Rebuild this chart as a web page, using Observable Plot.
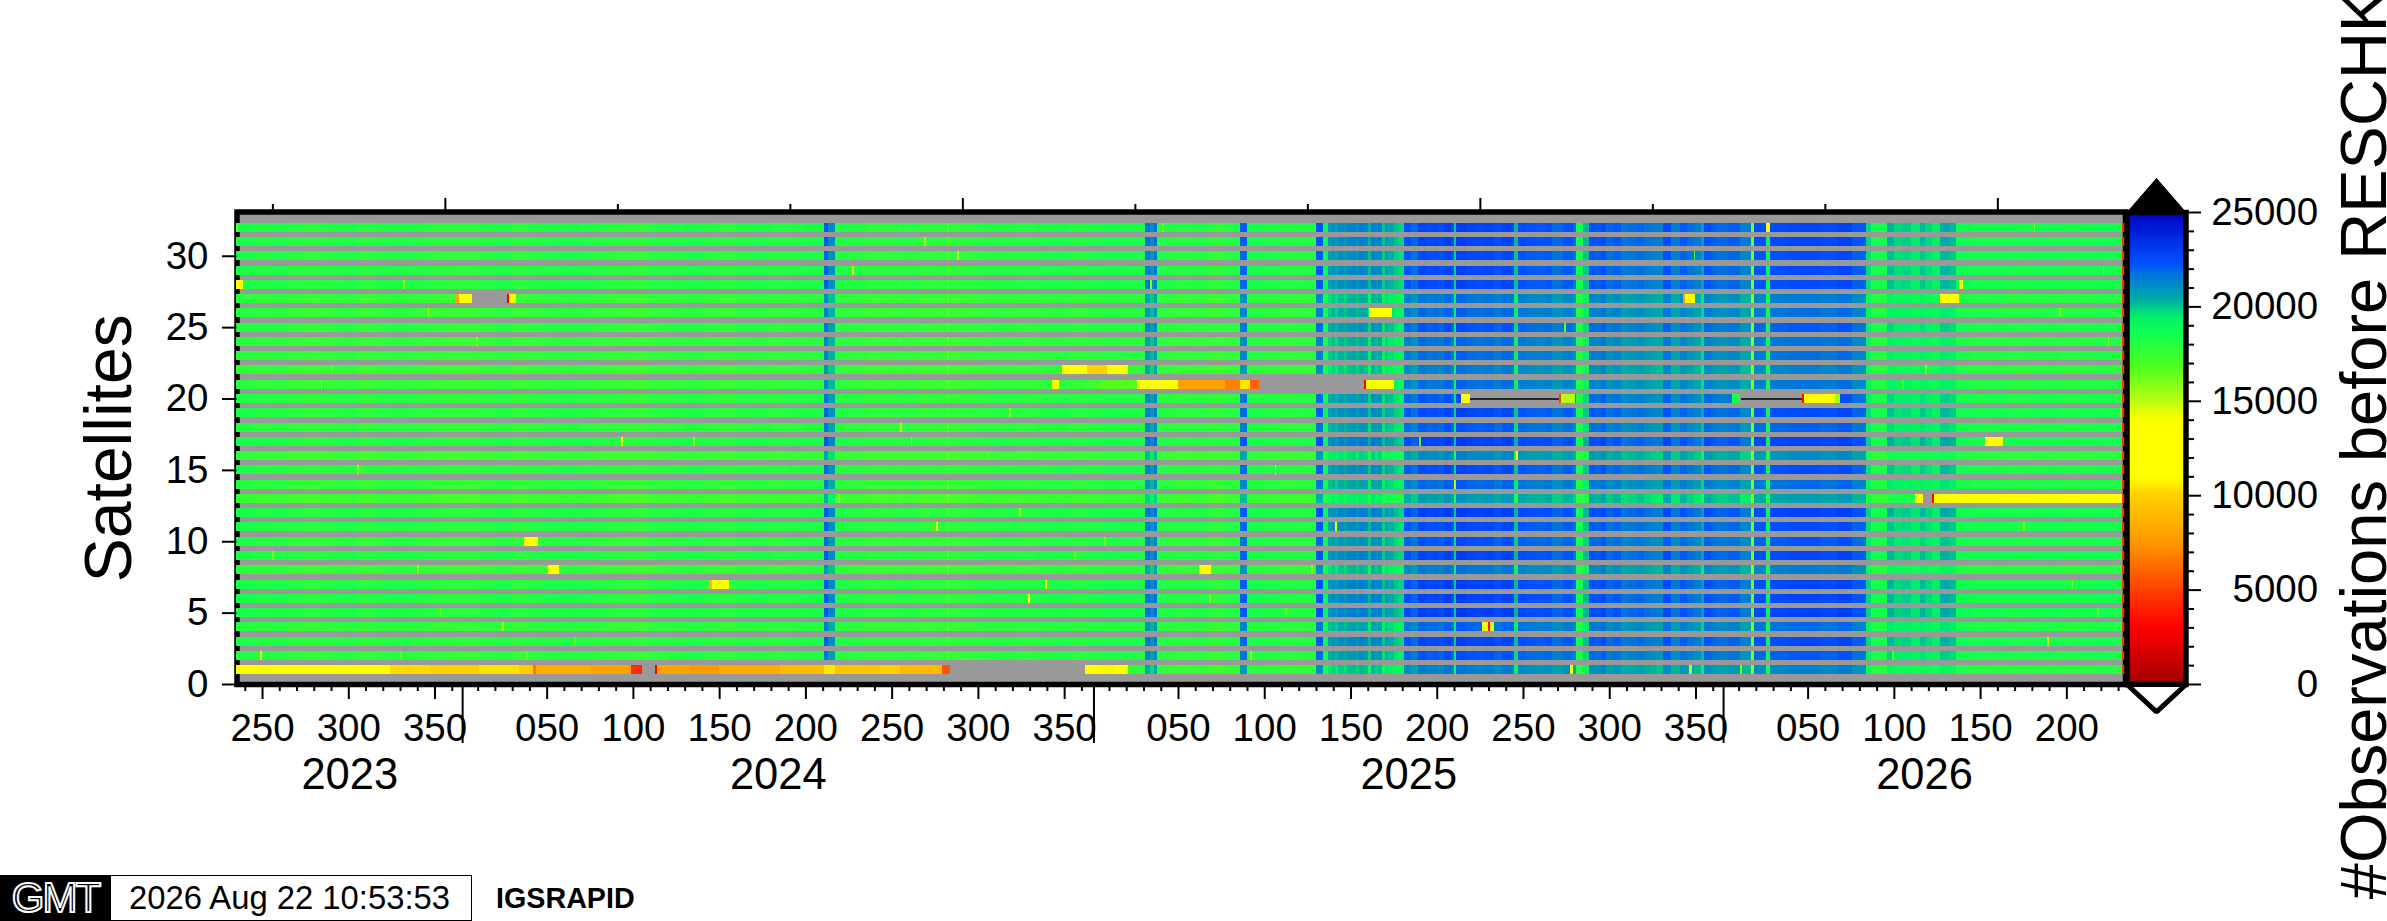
<!DOCTYPE html>
<html>
<head>
<meta charset="utf-8">
<script src="https://cdn.jsdelivr.net/npm/d3@7"></script>
<script src="https://cdn.jsdelivr.net/npm/@observablehq/plot@0.6"></script>
<style>
html,body{margin:0;padding:0;background:#fff;overflow:hidden;width:2387px;height:921px;font-family:"Liberation Sans",sans-serif}
#wrap{position:relative;width:2387px;height:921px;overflow:hidden}
#wrap svg{position:absolute;left:0;top:0;overflow:visible;background:transparent}
.foot{position:absolute;box-sizing:border-box;white-space:nowrap;color:#000}
</style>
</head>
<body>
<div id="wrap"></div>
<script>
// Time axis in Modified Julian Days
const xDomain = [60179.2, 61274];
const firstDay = 60179, lastDay = 61273;
const satellites = d3.range(1, 33);
const yTicks = [0, 5, 10, 15, 20, 25, 30];
const topTicksShort = [60200, 60400, 60500, 60700, 60800, 61000, 61100];
const topTicksTall = [60300, 60600, 60900, 61200];
// day-of-year tick labels: [mjd, label]
const dayLabels = [[60194,"250"],[60244,"300"],[60294,"350"],[60359,"050"],[60409,"100"],[60459,"150"],[60509,"200"],[60559,"250"],[60609,"300"],[60659,"350"],[60725,"050"],[60775,"100"],[60825,"150"],[60875,"200"],[60925,"250"],[60975,"300"],[61025,"350"],[61090,"050"],[61140,"100"],[61190,"150"],[61240,"200"]];
const yearStarts = [60310, 60676, 61041];
const yearLabels = [[60244.6,"2023"],[60493,"2024"],[60858.5,"2025"],[61157.5,"2026"]];
const minorTicks = [60184,60204,60214,60224,60234,60254,60264,60274,60284,60304,60319,60329,60339,60349,60369,60379,60389,60399,60419,60429,60439,60449,60469,60479,60489,60499,60519,60529,60539,60549,60569,60579,60589,60599,60619,60629,60639,60649,60669,60685,60695,60705,60715,60735,60745,60755,60765,60785,60795,60805,60815,60835,60845,60855,60865,60885,60895,60905,60915,60935,60945,60955,60965,60985,60995,61005,61015,61035,61050,61060,61070,61080,61100,61110,61120,61130,61150,61160,61170,61180,61200,61210,61220,61230,61250,61260,61270];

// Colour table
const colorValues = [0,3000,5000,7500,10000,11000,14000,15000,16800,18600,19440,20300,21000,21760,22300,25000];
const colorList = ["#a00000","#ff0000","#ff4000","#ff9800","#ffd000","#ffff00","#ffff00","#b8ff10","#50ff20","#10ff50","#00f068","#00b0a0","#0090c0","#0070e0","#0050ff","#0000c0"];
const barTicksMajor = [0,5000,10000,15000,20000,25000];
const barTicksMinor = [1000,2000,3000,4000,6000,7000,8000,9000,11000,12000,13000,14000,16000,17000,18000,19000,21000,22000,23000,24000];

// Common column profile: [start MJD, observations]
const commonProfile = [
[60179,18200],[60189,18000],[60199,18100],[60209,17850],[60219,17700],[60229,17900],[60239,18050],[60249,17750],[60259,17950],[60269,18100],[60279,17950],[60289,17800],[60299,17700],[60309,17650],[60319,17900],[60329,18050],[60339,17750],[60349,17950],[60359,18050],[60369,18150],[60379,18000],[60389,17850],[60399,17750],[60409,17650],[60419,17900],[60429,18000],[60439,18150],[60449,17950],[60459,17750],[60469,18000],[60479,18050],[60489,17850],[60499,18000],[60509,18150],
[60520,21800],[60522,20700],[60526,18000],[60535,17950],[60545,17700],[60555,17800],[60563,17200],[60564,17850],[60575,17650],[60585,17750],[60591,16800],[60592,17700],[60602,17800],[60612,17950],[60622,18000],[60632,17850],[60642,18050],[60652,18150],[60662,17950],[60672,18100],[60682,18200],[60692,18150],
[60706,21300],[60709,20500],[60711,21300],[60713,18000],[60723,17800],[60733,17950],[60743,17700],[60753,17950],
[60761,21600],[60765,18200],[60775,18100],[60785,17900],[60795,18000],
[60805,21800],[60809,18800],[60811.7,20300],[60814,20600],[60816,20200],[60818,20700],[60821,20400],[60823,20800],[60826,20900],[60828,20600],[60830,21000],[60833,20800],[60835.3,19800],[60836.7,21000],[60839,20600],[60841,20900],[60843,19600],[60845,20300],[60847,20000],[60849.8,19600],[60853,19400],
[60856,21900],[60860.5,21400],[60864,22300],[60869,22050],[60873,22150],[60876,21950],[60879,22400],[60882.6,22000],[60885,19500],[60886,22500],[60892,22250],[60898,22150],[60903,22300],[60907.8,21900],[60913.5,22300],[60919.7,19700],[60922.4,22000],[60927,21800],[60932.9,21700],[60938,21900],[60942.5,21400],[60948.3,21800],[60954.1,21300],[60955.7,18400],[60960.3,19700],
[60962.8,22000],[60966,21700],[60970,22100],[60973.5,21400],[60977,21700],[60982.1,21100],[60986,21300],[60990.8,21500],[60995,21200],[60998.6,21000],[61002.4,20900],[61006.3,22000],[61011.1,21000],[61015.9,21700],[61020,21300],[61024,21000],[61027.9,20100],[61029.9,21900],[61034,21600],[61037.2,21400],[61044,21600],[61050.7,20900],[61057.5,16000],[61058.8,21900],[61065.8,18900],[61068.1,22000],[61078,22150],[61087.4,22200],[61097,22000],[61106.8,22300],[61116.4,21700],[61123.2,21800],[61123.8,19400],
[61127,18300],[61135.8,19800],[61140,19400],[61145.4,19500],[61150,19200],[61155,19700],[61158,19400],[61161.8,19100],[61166.7,19900],[61172,19700],[61176.3,18500],[61186,18300],[61196,18400],[61206,18200],[61216,18300],[61226,18400],[61236,18200],[61246,18300],[61256,18400],[61266,18300],[61272,4500]
];
// Row brightness offset for satellites 1..32
const rowShift = [-800,0,400,-300,600,500,500,-700,450,100,300,550,-1500,-300,250,-1100,600,-100,300,0,-500,-800,-400,-500,0,-400,-600,350,350,300,500,500];

// Longer stretches that differ from the common profile: [sat, start, end, value]
const longRuns = [
[1,60179,60200,12300],[1,60200,60225,12000],[1,60225,60250,12500],[1,60250,60267.6,12300],[1,60267.6,60291.4,10200],[1,60291.4,60320.4,10000],[1,60320.4,60343.5,10400],[1,60343.5,60351,9800],[1,60351,60353.4,6500],[1,60353.4,60384.1,8500],[1,60384.1,60408.5,8000],[1,60408.5,60414.3,4300],[1,60421.8,60423,3000],[1,60423,60442,8000],[1,60442,60459.5,7600],[1,60459.5,60494.3,8400],[1,60494.3,60519.8,9000],[1,60519.8,60525.6,10500],[1,60525.6,60552.2,9500],[1,60552.2,60563.8,10000],[1,60563.8,60587.6,9000],[1,60587.6,60592.8,5500],[1,60671,60680,11500],[1,60680,60688,10800],[1,60688,60696,12500],[1,60952,60954,14000],[1,61021,61023,15000],
[4,60900.6,60904.7,12500],[4,60904.7,60905.8,3500],[4,60906.4,60908.2,14500],
[7,60453.1,60454.8,9000],[7,60454.8,60464.7,12500],
[8,60359.8,60365.6,12500],[8,60736.6,60744.1,12500],
[10,60346.4,60354.5,12500],
[13,61152.2,61157.5,12500],[13,61162.1,61163.3,3000],[13,61163.3,61272,12500],
[17,60402.1,60403.2,12500],[17,61192.8,61202.7,12500],
[20,60889.1,60894.3,12500],[20,60945.8,60947,5000],[20,60947,60955.1,15000],[20,61046.1,61051.4,18400],[20,61086.7,61087.9,3000],[20,61087.9,61106.5,12800],[20,61106.5,61108.8,15500],
[21,60652.5,60656,12500],[21,60671,60680,17400],[21,60680,60700.6,16800],[21,60700.6,60725.5,12000],[21,60725.5,60751.7,8000],[21,60751.7,60760.9,6800],[21,60760.9,60766.7,10500],[21,60766.7,60771.9,6000],[21,60832.8,60834,3000],[21,60834,60849.6,12800],
[22,60658.3,60672,11500],[22,60672,60684,10000],[22,60684,60696,12000],
[26,60835.7,60849,12500],
[27,60306.4,60307.6,8000],[27,60307.6,60315.7,12500],[27,60336,60337.2,3000],[27,60337.2,60341.2,12500],[27,61017.7,61018.9,8000],[27,61018.9,61025.3,13000],[27,61167.3,61178.3,12500],
[28,60179,60183.5,12500],[28,61177.7,61180,13000],
[32,61066.4,61068.1,13500]
];
// Single-day dips: [sat, mjd, value]
const dips = [
[32,60179,16500],[32,60716,16000],[32,61221,16000],[31,60578,15000],[30,60597,15000],[30,61024,17000],[29,60536,14500],[29,61261,16000],[28,60276,15500],[28,60709,16000],[26,60290,15500],[26,60591,16500],[26,61236,16000],[25,60949,16500],[24,60318,16000],[24,61264,16000],[22,60234,16500],[22,61158,15500],[21,60228,15500],[21,61145,17000],[19,60627,15500],[19,61271,16500],[18,60564,15000],[17,60570,16000],[17,60444,15500],[17,60865,17000],[16,60614,16000],[16,60591,16500],[16,60921,14000],[15,60249,15500],[15,60781,13000],[14,60885,15000],[13,60528,15500],[12,60633,15500],[11,60585,14000],[11,60816,13000],[11,61215,15500],[10,60682,16000],[9,60200,16000],[9,60665,16500],[8,60284,15500],[8,60802,15500],[7,60648,14000],[7,61243,16000],[6,60638,13000],[6,60743,16000],[5,60297,16000],[5,60787,16500],[5,61258,16500],[4,60333,15000],[3,60375,16500],[3,61229,14500],[2,60193,14500],[2,60274,16500],[2,60347,16500],[2,60767,15500],[2,61139,16500],[1,61051,16000]
];
// Missing data: [sat, start, end]
const gaps = [[1,60414.3,60421.8],[1,60592.8,60671],[21,60771.9,60832.8],[27,60315.7,60336],[20,60894.3,60945.8],[20,61051.4,61086.7],[13,61157.5,61162.1]];
// Black lines inside the gaps of satellite 20: [start, end]
const gapLines = [[60894.3,60945.8],[61051.4,61086.7]];

const profileStarts = commonProfile.map(p => p[0]);
function baseValue(sat, day) {
  const v = commonProfile[Math.max(0, d3.bisectRight(profileStarts, day + 0.5) - 1)][1];
  if (v < 10000) return v;
  const w = Math.min(1, Math.max(0.4, (v - 18300) / 1500));
  return v + rowShift[sat - 1] * w;
}
const cells = [];
for (const sat of satellites) {
  let run = null;
  for (let day = firstDay; day <= lastDay; day++) {
    const mid = day + 0.5;
    let value = baseValue(sat, day);
    for (const a of longRuns) if (a[0] === sat && mid >= a[1] && mid < a[2]) value = a[3];
    for (const a of dips) if (a[0] === sat && a[1] === day) value = a[2];
    for (const a of gaps) if (a[0] === sat && mid >= a[1] && mid < a[2]) value = null;
    if (run && run.value === value) { run.x2 = day + 1; continue; }
    if (run && run.value !== null) cells.push(run);
    run = {sat, x1: day, x2: day + 1, value};
  }
  if (run && run.value !== null) cells.push(run);
}
const colorScale = {type: "linear", domain: colorValues, range: colorList, clamp: true};
const font = '"Liberation Sans", sans-serif';
const dayMap = new Map(dayLabels);
const yearMap = new Map(yearLabels);

const main = Plot.plot({
  width: 2387, height: 921,
  marginLeft: 236.5, marginRight: 262, marginTop: 211.5, marginBottom: 237,
  style: {fontFamily: font, background: "transparent", overflow: "visible"},
  x: {domain: xDomain, axis: null},
  y: {domain: [0, 33.1], axis: null},
  color: colorScale,
  marks: [
    Plot.frame({fill: "#999999"}),
    Plot.frame({stroke: "#000", strokeWidth: 5.5}),
    Plot.rect(cells, {x1: "x1", x2: "x2", y1: d => d.sat - 0.315, y2: d => d.sat + 0.315, fill: "value", shapeRendering: "crispEdges"}),
    Plot.ruleY(gapLines, {x1: d => d[0], x2: d => d[1], y: 20, stroke: "#000", strokeWidth: 1.5}),
    Plot.axisY({anchor: "left", ticks: yTicks, tickSize: 14.5, tickPadding: 14, fontSize: 38.5, label: null, strokeWidth: 2}),
    Plot.axisX({anchor: "top", ticks: topTicksShort, tickSize: 8.5, fill: "none", label: null, strokeWidth: 2}),
    Plot.axisX({anchor: "top", ticks: topTicksTall, tickSize: 14.5, fill: "none", label: null, strokeWidth: 2}),
    Plot.axisX({anchor: "bottom", ticks: minorTicks, tickSize: 7, fill: "none", label: null, strokeWidth: 2}),
    Plot.axisX({anchor: "bottom", ticks: dayLabels.map(d => d[0]), tickSize: 15, tickPadding: 14, fontSize: 38.5, tickFormat: d => dayMap.get(d), label: null, strokeWidth: 2}),
    Plot.axisX({anchor: "bottom", ticks: yearStarts, tickSize: 59, fill: "none", label: null, strokeWidth: 2}),
    Plot.axisX({anchor: "bottom", ticks: yearLabels.map(d => d[0]), tickSize: 0, tickPadding: 73.5, fontSize: 43.5, tickFormat: d => yearMap.get(d), label: null}),
    Plot.text(["Satellites"], {frameAnchor: "left", rotate: -90, textAnchor: "middle", lineAnchor: "bottom", dx: -106.5, fontSize: 66})
  ]
});

const ramp = d3.range(0, 25000, 50);
const upTri = [[0,25000],[0.5,26800],[1,25000],[0,25000]];
const downTri = [[0,0],[0.5,-1450],[1,0],[0,0]];
const bar = Plot.plot({
  width: 2387, height: 921,
  marginLeft: 2126.5, marginRight: 201.5, marginTop: 212, marginBottom: 237,
  style: {fontFamily: font, background: "transparent", overflow: "visible"},
  x: {domain: [0, 1], axis: null},
  y: {domain: [0, 25000], axis: null},
  color: colorScale,
  marks: [
    Plot.rect(ramp, {x1: 0, x2: 1, y1: d => d, y2: d => d + 50, fill: d => d + 25, shapeRendering: "crispEdges"}),
    Plot.frame({stroke: "#000", strokeWidth: 5.5}),
    Plot.line(upTri, {x: d => d[0], y: d => d[1], fill: "#000", stroke: "#000", strokeWidth: 1, clip: false}),
    Plot.line(downTri, {x: d => d[0], y: d => d[1], fill: "#fff", stroke: "#000", strokeWidth: 5, strokeLinejoin: "miter", clip: false}),
    Plot.axisY({anchor: "right", ticks: barTicksMinor, tickSize: 7.5, fill: "none", label: null, strokeWidth: 2}),
    Plot.axisY({anchor: "right", ticks: barTicksMajor, tickSize: 14.5, fill: "none", label: null, strokeWidth: 2}),
    Plot.text(barTicksMajor, {y: d => d, frameAnchor: "right", dx: 132.2, textAnchor: "end", text: d => String(d), fontSize: 38.5}),
    Plot.text(["#Observations before RESCHK"], {frameAnchor: "right", rotate: -90, textAnchor: "middle", lineAnchor: "bottom", dx: 199.5, dy: -4.5, fontSize: 65})
  ]
});

const wrap = document.getElementById("wrap");
wrap.append(main, bar);
function foot(css, text) {
  const el = document.createElement("div");
  el.className = "foot";
  el.style.cssText = css;
  el.textContent = text;
  wrap.append(el);
}
foot("left:0;top:875px;width:111px;height:46px;background:#000;color:#000;font-size:42px;line-height:46px;text-align:center;-webkit-text-stroke:2px #fff;letter-spacing:-2px;font-weight:400;overflow:hidden", "GMT");
foot("left:110px;top:875px;width:362px;height:46px;border:1.5px solid #000;background:#fff;font-size:32.8px;line-height:44px;padding-left:18px", "2026 Aug 22 10:53:53");
foot("left:496px;top:875px;height:46px;font-size:28.7px;line-height:46px;font-weight:700", "IGSRAPID");
</script>
</body>
</html>
